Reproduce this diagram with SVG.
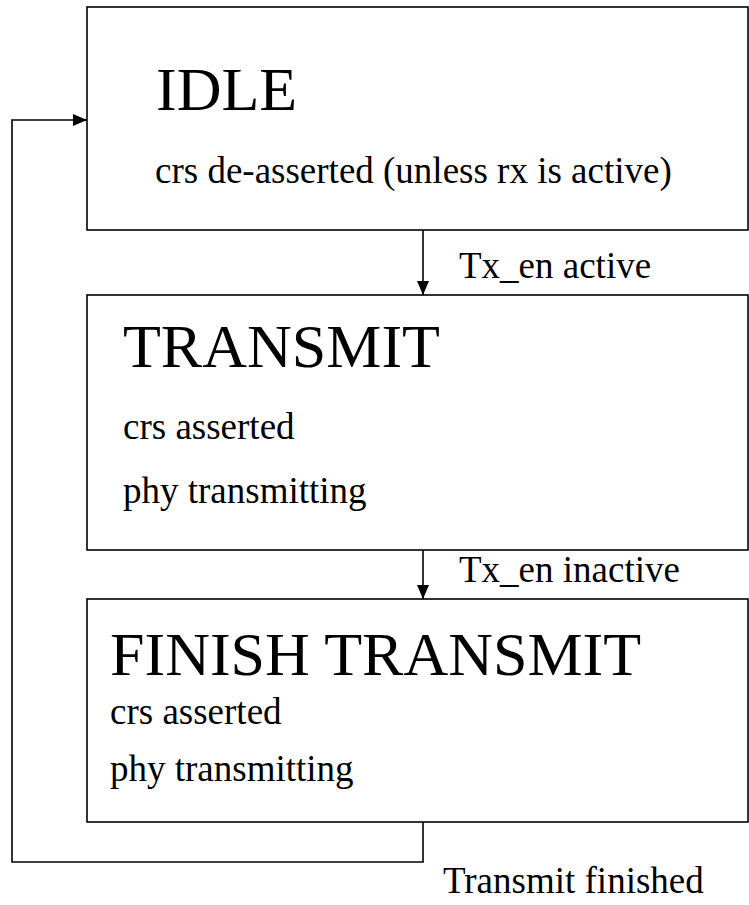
<svg xmlns="http://www.w3.org/2000/svg" width="749" height="905" viewBox="0 0 749 905">
  <style>
    .box { fill: #ffffff; stroke: #000000; stroke-width: 1.6; }
    .wire { fill: none; stroke: #000000; stroke-width: 1.6; }
    text { font-family: "Liberation Serif", "Times New Roman", serif; fill: #000000; }
    .title { font-size: 62px; }
    .body { font-size: 37px; }
  </style>
  <defs>
    <!-- filled triangular arrowhead, about 14 px long and 12 px wide -->
    <marker id="arrow" viewBox="0 0 14 12" refX="14" refY="6" markerWidth="14" markerHeight="12" markerUnits="userSpaceOnUse" orient="auto">
      <path d="M0,0 L14,6 L0,12 z" fill="#000000"/>
    </marker>
  </defs>
  <rect width="749" height="905" fill="#ffffff"/>

  <g id="connectors">
    <line class="wire" x1="423" y1="230" x2="423" y2="295" marker-end="url(#arrow)"/>
    <line class="wire" x1="423" y1="550" x2="423" y2="599" marker-end="url(#arrow)"/>
    <polyline class="wire" points="423,822 423,862 12,862 12,120 87,120" marker-end="url(#arrow)"/>
    <text class="body" x="459" y="278">Tx_en active</text>
    <text class="body" x="459" y="582">Tx_en inactive</text>
    <text class="body" x="443" y="893">Transmit finished</text>
  </g>

  <g id="idle">
    <rect class="box" x="87" y="7" width="661" height="223"/>
    <text class="title" x="156" y="110" font-size="60">IDLE</text>
    <text class="body" x="155" y="183">crs de-asserted (unless rx is active)</text>
  </g>

  <g id="transmit">
    <rect class="box" x="87" y="295" width="661" height="255"/>
    <text class="title" x="123" y="367">TRANSMIT</text>
    <text class="body" x="123" y="439">crs asserted</text>
    <text class="body" x="123" y="503">phy transmitting</text>
  </g>

  <g id="finish-transmit">
    <rect class="box" x="87" y="599" width="661" height="223"/>
    <text class="title" x="110" y="675">FINISH TRANSMIT</text>
    <text class="body" x="110" y="724">crs asserted</text>
    <text class="body" x="110" y="781">phy transmitting</text>
  </g>
</svg>
